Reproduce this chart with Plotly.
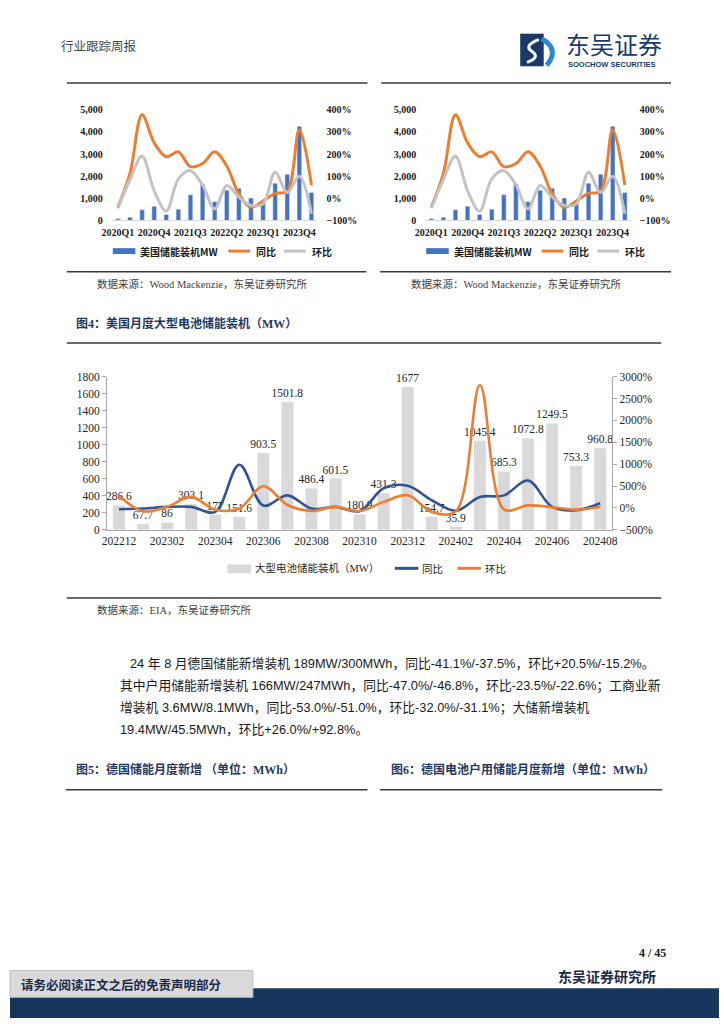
import plotly.graph_objects as go

# ---------------- data ----------------
quarters = ["2020Q1", "2020Q2", "2020Q3", "2020Q4", "2021Q1", "2021Q2", "2021Q3", "2021Q4",
            "2022Q1", "2022Q2", "2022Q3", "2022Q4", "2023Q1", "2023Q2", "2023Q3", "2023Q4", "2024Q1"]
quarter_ticks = ["2020Q1", "2020Q4", "2021Q3", "2022Q2", "2023Q1", "2023Q4"]
us_storage_mw = [80, 150, 480, 640, 270, 510, 1160, 1640, 850, 1370, 1450, 1010, 760, 1680, 2090, 4250, 1260]
us_yoy_pct = [-40, 112, 378, 251, 188, 210, 143, 157, 210, 146, 19, -40, -12, 22, 32, 310, 60]
us_qoq_pct = [-45, 85, 190, 34, -58, 88, 125, 60, -48, 58, 5, -32, -25, 118, 26, 100, -70]

months = ["202212", "202301", "202302", "202303", "202304", "202305", "202306", "202307",
          "202308", "202309", "202310", "202311", "202312", "202401", "202402", "202403",
          "202404", "202405", "202406", "202407", "202408"]
month_ticks = ["202212", "202302", "202304", "202306", "202308", "202310",
               "202312", "202402", "202404", "202406", "202408"]
eia_mw = [286.6, 67.7, 86, 303.1, 177, 151.6, 903.5, 1501.8, 486.4, 601.5, 180.9,
          431.3, 1677, 154.7, 35.9, 1045.4, 685.3, 1072.8, 1249.5, 753.3, 960.8]
eia_yoy_pct = [-30, -15, 23, 23, -90, 985, 55, 286, -15, 23, -75,
               450, 505, 175, -65, 248, 286, 625, 23, -53, 105]
eia_mom_pct = [280, -76, 27, 252, -42, -14, 496, 66, -68, 24, -70,
               138, 289, -91, -77, 2810, -34, 57, 16, -40, 28]

# ---------------- styles ----------------
W, H = 724, 1024
SERIF = "Liberation Serif, Noto Sans CJK SC, serif"
SANS = "Liberation Sans, Noto Sans CJK SC, sans-serif"
CJK = "Noto Sans CJK SC, Liberation Serif, sans-serif"
BLUE_BAR = "#4472C4"
ORANGE = "#ED7D31"
GRAY_LINE = "#C3C3C3"
NAVY_LINE = "#2F5597"
TITLE_NAVY = "#1F3864"


def X(px):
    return px / W


def Y(py):
    return 1 - py / H


fig = go.Figure()

# ---------------- two small quarterly charts ----------------
small = [("x", "y", "y2"), ("x2", "y3", "y4")]
for xa, yl, yr in small:
    fig.add_trace(go.Bar(x=quarters, y=us_storage_mw, name="美国储能装机MW", marker_color=BLUE_BAR,
                         width=0.38, xaxis=xa, yaxis=yl, showlegend=False))
    fig.add_trace(go.Scatter(x=quarters, y=us_yoy_pct, name="同比", mode="lines",
                             line=dict(color=ORANGE, width=3, shape="spline", smoothing=1.0),
                             xaxis=xa, yaxis=yr, showlegend=False))
    fig.add_trace(go.Scatter(x=quarters, y=us_qoq_pct, name="环比", mode="lines",
                             line=dict(color=GRAY_LINE, width=3, shape="spline", smoothing=1.0),
                             xaxis=xa, yaxis=yr, showlegend=False))

# ---------------- main monthly chart ----------------
fig.add_trace(go.Bar(x=months, y=eia_mw, name="大型电池储能装机（MW）", marker_color="#D9D9D9",
                     width=0.5, text=[str(v) for v in eia_mw], textposition="outside",
                     constraintext="none", cliponaxis=False,
                     textfont=dict(family=SERIF, size=11.5, color="#262626"),
                     xaxis="x3", yaxis="y5", showlegend=False))
fig.add_trace(go.Scatter(x=months, y=eia_yoy_pct, name="同比", mode="lines",
                         line=dict(color=NAVY_LINE, width=2.6, shape="spline", smoothing=1.0),
                         xaxis="x3", yaxis="y6", showlegend=False))
fig.add_trace(go.Scatter(x=months, y=eia_mom_pct, name="环比", mode="lines",
                         line=dict(color=ORANGE, width=2.6, shape="spline", smoothing=1.0),
                         xaxis="x3", yaxis="y6", showlegend=False))

small_tick = dict(family=SERIF, size=10, color="#1a1a1a", weight="bold")


def small_axes(dx0, dx1, yl_name, yr_name, x_name, x_anchor, yl_anchor):
    return {
        x_name: dict(domain=[X(dx0), X(dx1)], anchor=yl_anchor, type="category",
                     range=[-0.5, len(quarters) - 0.5], tickmode="array",
                     tickvals=quarter_ticks, ticktext=quarter_ticks, tickfont=small_tick,
                     showline=True, linecolor="#D9D9D9", linewidth=1, ticks="",
                     showgrid=False, zeroline=False, ticklabelstandoff=3),
        yl_name: dict(domain=[Y(217), Y(105)], anchor=x_anchor, range=[0, 5000], dtick=1000,
                      tickformat=",", tickfont=small_tick, showgrid=False, zeroline=False,
                      showline=False, ticks="", ticklabelstandoff=8),
        yr_name: dict(overlaying=yl_anchor, anchor=x_anchor, side="right", range=[-100, 400],
                      dtick=100, ticksuffix="%", tickfont=small_tick, showgrid=False,
                      zeroline=False, showline=False, ticks="", ticklabelstandoff=8),
    }


layout_axes = {}
layout_axes.update(small_axes(104, 314, "yaxis", "yaxis2", "xaxis", "x", "y"))
layout_axes.update(small_axes(424, 634, "yaxis3", "yaxis4", "xaxis2", "x2", "y3"))

main_tick = dict(family=SERIF, size=11.5, color="#262626")
layout_axes.update({
    "xaxis3": dict(domain=[X(99), X(615)], anchor="y5", type="category",
                   range=[-0.5, len(months) - 0.5], tickmode="array", tickvals=month_ticks,
                   ticktext=month_ticks, tickfont=main_tick, showline=True,
                   linecolor="#A6A6A6", linewidth=1, ticks="", showgrid=False, zeroline=False),
    "yaxis5": dict(domain=[Y(530), Y(375)], anchor="x3", range=[0, 1800], dtick=200,
                   tickfont=main_tick, showgrid=False, zeroline=False, showline=True,
                   linecolor="#A6A6A6", linewidth=1, ticks="outside", ticklen=4,
                   tickcolor="#A6A6A6"),
    "yaxis6": dict(overlaying="y5", anchor="x3", side="right", range=[-500, 3000], dtick=500,
                   ticksuffix="%", tickfont=main_tick, showgrid=False, zeroline=False,
                   showline=True, linecolor="#A6A6A6", linewidth=1, ticks="outside",
                   ticklen=4, tickcolor="#A6A6A6"),
})

shapes = []
annotations = []


def hline(x0, x1, y, color="#3a3a3a", width=1.5):
    shapes.append(dict(type="line", xref="paper", yref="paper", x0=X(x0), x1=X(x1),
                       y0=Y(y), y1=Y(y), line=dict(color=color, width=width)))


def rect(x0, x1, y0, y1, fill, line_color=None, line_width=0):
    shapes.append(dict(type="rect", xref="paper", yref="paper", x0=X(x0), x1=X(x1),
                       y0=Y(y1), y1=Y(y0), fillcolor=fill,
                       line=dict(color=line_color or fill, width=line_width)))


def text(x, y, s, size, color="#222", family=CJK, weight="normal", xanchor="left"):
    annotations.append(dict(x=X(x), y=Y(y), xref="paper", yref="paper", text=s,
                            showarrow=False, xanchor=xanchor, yanchor="middle",
                            font=dict(family=family, size=size, color=color, weight=weight)))


# ---------------- header ----------------
text(50, 40, "行业跟踪周报", 12.5, color="#3b4a5a")
rect(521, 545, 28, 61, "#1B3A6B")
shapes.append(dict(type="path", xref="paper", yref="paper",
                   path=f"M {X(543)},{Y(33)} Q {X(562)},{Y(44)} {X(548)},{Y(60)}",
                   line=dict(color="#2A8BD4", width=5)))
shapes.append(dict(type="path", xref="paper", yref="paper",
                   path=f"M {X(540)},{Y(34)} Q {X(524)},{Y(40)} {X(533)},{Y(46)} Q {X(542)},{Y(52)} {X(528)},{Y(57)}",
                   line=dict(color="white", width=3)))
text(566, 38, "东吴证券", 24, color="#1B3A6B")
text(568, 59, "SOOCHOW SECURITIES", 7.5, color="#1B3A6B", family="Liberation Sans, sans-serif",
     weight="bold")
hline(58, 365, 78)
hline(379, 675, 78)

# ---------------- small chart legends and sources ----------------
for dx in (0, 320):
    rect(105 + dx, 128 + dx, 245, 251, BLUE_BAR)
    text(131 + dx, 248, "美国储能装机MW", 10, color="#1a1a1a", family=CJK, weight="bold")
    hline(223 + dx, 245 + dx, 248, color=ORANGE, width=3)
    text(249 + dx, 248, "同比", 10, color="#1a1a1a", weight="bold")
    hline(280 + dx, 302 + dx, 248, color=GRAY_LINE, width=3)
    text(306 + dx, 248, "环比", 10, color="#1a1a1a", weight="bold")
    text(87 + dx, 281, "数据来源：Wood Mackenzie，东吴证券研究所", 10.5, color="#404040", family=SERIF)
hline(58, 364, 269)
hline(378, 675, 269)

# ---------------- main chart title, legend, source ----------------
text(65, 321, "图4：美国月度大型电池储能装机（MW）", 12, color=TITLE_NAVY, family=SERIF, weight="bold")
hline(58, 665, 341)
rect(222, 246, 565, 574, "#D9D9D9")
text(248, 569, "大型电池储能装机（MW）", 10.5, color="#262626", family=SERIF)
hline(393, 417, 569, color=NAVY_LINE, width=3)
text(419, 569, "同比", 10.5, color="#262626")
hline(457, 481, 569, color=ORANGE, width=3)
text(483, 569, "环比", 10.5, color="#262626")
hline(58, 665, 599)
text(87, 611, "数据来源：EIA，东吴证券研究所", 10.5, color="#404040", family=SERIF)

# ---------------- paragraph ----------------
para = [
    (121, 665, "24 年 8 月德国储能新增装机 189MW/300MWh，同比-41.1%/-37.5%，环比+20.5%/-15.2%。"),
    (110, 688, "其中户用储能新增装机 166MW/247MWh，同比-47.0%/-46.8%，环比-23.5%/-22.6%；工商业新"),
    (110, 710, "增装机 3.6MW/8.1MWh，同比-53.0%/-51.0%，环比-32.0%/-31.1%；大储新增装机"),
    (110, 732, "19.4MW/45.5MWh，环比+26.0%/+92.8%。"),
]
for px, py, s in para:
    text(px, py, s, 12.8, color="#1a1a1a", family=SANS)

# ---------------- figure 5 / 6 titles ----------------
text(65, 773, "图5：德国储能月度新增 （单位：MWh）", 12, color=TITLE_NAVY, family=SERIF, weight="bold")
text(387, 773, "图6：德国电池户用储能月度新增（单位：MWh）", 12, color=TITLE_NAVY, family=SERIF, weight="bold")
hline(57, 365, 793)
hline(378, 666, 793)

# ---------------- footer ----------------
text(672, 958, "4 / 45", 12, color="#1a1a1a", family=SERIF, weight="bold", xanchor="right")
text(662, 982, "东吴证券研究所", 14, color="#1B2A4A", weight="bold", xanchor="right")
rect(0, 724, 994, 1024, "#17365D")
rect(0, 248, 976, 1003, "#D9D9D9", line_color="#BFBFBF", line_width=1)
text(9, 990, "请务必阅读正文之后的免责声明部分", 12.5, color="#1B2A4A", weight="bold")

fig.update_layout(
    width=W, height=H, margin=dict(l=0, r=0, t=0, b=0),
    paper_bgcolor="white", plot_bgcolor="rgba(0,0,0,0)",
    bargap=0.5, showlegend=False,
    shapes=shapes, annotations=annotations,
    **layout_axes,
)

fig.write_html("out.html", config={"displayModeBar": False},
               post_script="document.body.style.margin='0';document.body.style.overflow='hidden';")
